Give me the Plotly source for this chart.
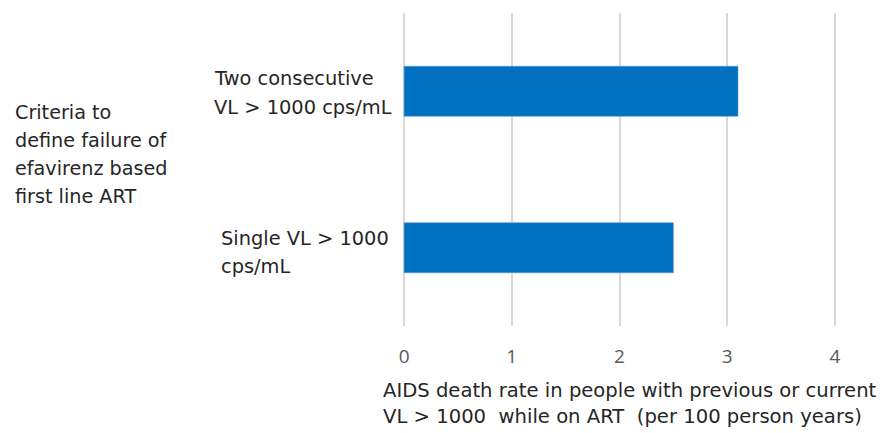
import plotly.graph_objects as go

# Failure criteria (top to bottom) and AIDS death rate per 100 person-years
categories = ["Two consecutive<br>VL > 1000 cps/mL", "Single VL > 1000<br>cps/mL"]
death_rate = [3.1, 2.5]
tick_values = [0, 1, 2, 3, 4]
group_title = ["Criteria to", "define failure of", "efavirenz based", "first line ART"]
axis_title = ["AIDS death rate in people with previous or current",
              "VL > 1000  while on ART  (per 100 person years)"]

W, H = 883, 433
M = dict(l=403, r=47, t=13, b=107)
PW, PH = W - M["l"] - M["r"], H - M["t"] - M["b"]
X_RANGE = [-0.01, 4.01]
FONT = "'DejaVu Sans', sans-serif"
TICK_FONT = "'Open Sans', sans-serif"
DARK = "#262626"


def px_x(x):
    return (x - M["l"]) / PW


def px_y(y):
    return (H - M["b"] - y) / PH


fig = go.Figure(go.Bar(
    x=death_rate, y=categories, orientation="h",
    marker=dict(color="#0070C0", line=dict(color="#5B9BD5", width=0.6)),
    width=0.32,
))

annotations = []
# category labels, left-aligned blocks beside each bar
label_offsets = [(212, [13, -16]), (219, [9, -19])]
for cat, (xpx, shifts) in zip(categories, label_offsets):
    for line, ys in zip(cat.split("<br>"), shifts):
        annotations.append(dict(
            text=line, xref="paper", x=px_x(xpx), yref="y", y=cat,
            yshift=ys, xanchor="left", yanchor="middle", showarrow=False,
            font=dict(family=FONT, size=19.4, color=DARK)))

for i, line in enumerate(group_title):
    annotations.append(dict(
        text=line, xref="paper", x=px_x(13), yref="paper", y=px_y(112 + 28.3 * i),
        xanchor="left", yanchor="middle", showarrow=False,
        font=dict(family=FONT, size=19.2, color=DARK)))

for i, line in enumerate(axis_title):
    annotations.append(dict(
        text=line, xref="paper", x=px_x(381), yref="paper", y=px_y(390 + 27 * i),
        xanchor="left", yanchor="middle", showarrow=False,
        font=dict(family=FONT, size=19.6, color=DARK)))

fig.update_layout(
    width=W, height=H, margin=M,
    paper_bgcolor="white", plot_bgcolor="white",
    showlegend=False,
    annotations=annotations,
    xaxis=dict(range=X_RANGE, tickvals=tick_values, showgrid=True,
               gridcolor="#D9D9D9", gridwidth=1.5, zeroline=False,
               showline=False, ticks="",
               tickfont=dict(family=TICK_FONT, size=19, color="#595959"),
               ticklabelstandoff=17),
    yaxis=dict(categoryorder="array", categoryarray=categories[::-1],
               range=[-0.5, 1.5], showticklabels=False, showgrid=False,
               zeroline=False, showline=False, ticks=""),
)

fig.write_html("out.html")
